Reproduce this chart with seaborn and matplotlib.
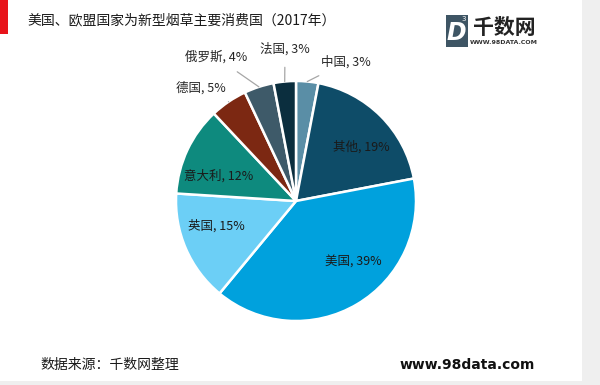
import numpy as np
import matplotlib
matplotlib.use("Agg")
import matplotlib.pyplot as plt
from matplotlib.patches import Rectangle
import seaborn as sns

# data
countries = ['中国', '其他', '美国', '英国', '意大利', '德国', '俄罗斯', '法国']
shares = [3, 19, 39, 15, 12, 5, 4, 3]
colors = ['#5A8EA6', '#0E4C68', '#00A1DD', '#6CCFF6', '#0E8A7E', '#7C2812', '#3E5A69', '#0B2E3E']

sns.set_theme(style="white")
plt.rcParams['font.family'] = ['Noto Sans CJK SC', 'DejaVu Sans']

W, H = 600, 385
fig = plt.figure(figsize=(6, 3.85), dpi=100, facecolor='#EFEFEF')
ax = fig.add_axes([0, 0, 1, 1])

# card background and red accent
ax.add_patch(Rectangle((0, H - 381), 582, 381, facecolor='white', edgecolor='none', zorder=0))
ax.add_patch(Rectangle((0, H - 34), 8, 34, facecolor='#E8141B', edgecolor='none', zorder=1))

cx, cy, R = 296, H - 201, 120
wedges, _ = ax.pie(shares, colors=colors, startangle=90, counterclock=False,
                   center=(cx, cy), radius=R,
                   wedgeprops=dict(edgecolor='white', linewidth=1.8))

# label placement (pixel coords from top-left); outside ones get leader lines
label_pos = {'中国': (346, 62), '法国': (285, 49), '俄罗斯': (216, 57), '德国': (201, 88),
             '其他': (361, 147), '美国': (353, 262), '英国': (216, 226), '意大利': (219, 176)}
outside = ['中国', '法国', '俄罗斯', '德国']
for w, name, v in zip(wedges, countries, shares):
    ang = np.deg2rad((w.theta1 + w.theta2) / 2)
    txt = f'{name}, {v}%'
    tx, ty = label_pos[name]
    ty = H - ty
    if name in outside:
        ex, ey = cx + R * np.cos(ang), cy + R * np.sin(ang)
        ax.annotate(txt, xy=(ex, ey), xytext=(tx, ty), ha='center', va='center',
                    fontsize=9, color='#262626',
                    arrowprops=dict(arrowstyle='-', color='#A6A6A6', lw=0.9,
                                    shrinkA=6, shrinkB=0))
    else:
        ax.text(tx, ty, txt, ha='center', va='center', fontsize=9, color='#1A1A1A')

ax.set_xlim(0, W)
ax.set_ylim(0, H)
ax.set_aspect('equal')
ax.axis('off')

# title and footer
ax.text(27, H - 20, '美国、欧盟国家为新型烟草主要消费国（2017年）', fontsize=10,
        color='#1A1A1A', va='center', ha='left')
ax.text(40, H - 365, '数据来源：千数网整理', fontsize=10, color='#1A1A1A', va='center', ha='left')
ax.text(467, H - 365, 'www.98data.com', fontsize=10, fontweight='bold', color='#111111',
        va='center', ha='center', family='DejaVu Sans')

# logo
ax.add_patch(Rectangle((446, H - 47), 22, 32, facecolor='#3E5564', edgecolor='none'))
ax.text(456, H - 33, 'D', fontsize=17, fontweight='bold', fontstyle='italic', color='white',
        ha='center', va='center', family='DejaVu Sans')
ax.text(464, H - 19, '3', fontsize=5, color='white', ha='center', va='center', family='DejaVu Sans')
ax.text(504, H - 27, '千数网', fontsize=15, fontweight='bold', color='#222222', ha='center', va='center')
ax.text(504, H - 43, 'WWW.98DATA.COM', fontsize=4.5, fontweight='bold', color='#333333',
        ha='center', va='center', family='DejaVu Sans')

fig.savefig('out.png', dpi=100, facecolor=fig.get_facecolor())
